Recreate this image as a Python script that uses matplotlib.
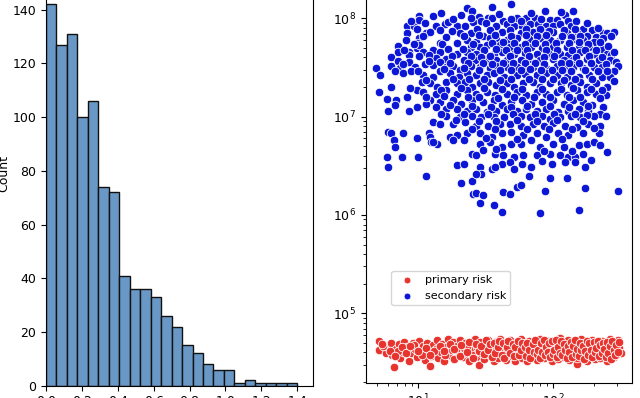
import matplotlib

matplotlib.use("Agg")
import matplotlib.pyplot as plt
import numpy as np

# histogram (left panel)
hist_counts = [142, 127, 131, 100, 106, 74, 72, 41, 36, 36, 33, 26,
               22, 15, 12, 8, 6, 6, 1, 2, 1, 1, 1, 1]
hist_min = 0.0
hist_max = 1.40
hist_xticks = [0.0, 0.2, 0.4, 0.6, 0.8, 1.0, 1.2, 1.4]
hist_yticks = [0, 20, 40, 60, 80, 100, 120, 140]

# scatter (right panel), values read as log10 of x and y
primary_log_x = [
    0.71, 0.71, 0.76, 0.78, 0.80, 0.81, 0.82, 0.84, 0.86, 0.87, 0.89, 0.90, 0.92, 0.93, 0.95, 0.96,
    0.98, 0.99, 1.01, 1.02, 1.04, 1.05, 1.07, 1.08, 1.09, 1.10, 1.11, 1.13, 1.14, 1.15, 1.17, 1.18,
    1.19, 1.21, 1.22, 1.23, 1.25, 1.26, 1.27, 1.29, 1.30, 1.31, 1.33, 1.34, 1.35, 1.37, 1.38, 1.39,
    1.41, 1.42, 1.43, 1.44, 1.45, 1.46, 1.47, 1.49, 1.50, 1.51, 1.52, 1.53, 1.55, 1.56, 1.57, 1.58,
    1.59, 1.60, 1.61, 1.63, 1.64, 1.65, 1.66, 1.67, 1.68, 1.69, 1.70, 1.71, 1.72, 1.73, 1.74, 1.75,
    1.76, 1.77, 1.78, 1.79, 1.80, 1.81, 1.82, 1.83, 1.84, 1.85, 1.86, 1.87, 1.88, 1.89, 1.90, 1.91,
    1.92, 1.93, 1.94, 1.95, 1.96, 1.97, 1.98, 1.99, 2.00, 2.01, 2.02, 2.03, 2.04, 2.05, 2.06, 2.07,
    2.08, 2.09, 2.10, 2.11, 2.12, 2.13, 2.14, 2.15, 2.16, 2.17, 2.18, 2.18, 2.19, 2.20, 2.21, 2.22,
    2.23, 2.24, 2.25, 2.26, 2.27, 2.28, 2.29, 2.30, 2.31, 2.32, 2.33, 2.34, 2.35, 2.36, 2.37, 2.38,
    2.39, 2.40, 2.41, 2.42, 2.43, 2.44, 2.45, 2.46, 2.47, 2.48, 2.49, 2.50,
    0.74, 0.85, 0.97, 1.03, 1.12, 1.20, 1.28, 1.36, 1.40, 1.48, 1.54, 1.62, 1.66, 1.72, 1.78, 1.84,
    1.88, 1.94, 1.98, 2.02, 2.06, 2.10, 2.14, 2.19, 2.23, 2.27, 2.31, 2.35, 2.39, 2.43, 2.47, 1.58,
    1.70, 1.90, 2.00, 2.12, 2.25,
    0.73, 0.79, 0.83, 0.88, 0.91, 0.94, 1.00, 1.06, 1.09, 1.16, 1.19, 1.24, 1.27, 1.31, 1.32, 1.36,
    1.38, 1.41, 1.43, 1.45, 1.47, 1.49, 1.50, 1.52, 1.53, 1.55, 1.56, 1.57, 1.59, 1.60, 1.62, 1.63,
    1.64, 1.66, 1.67, 1.68, 1.70, 1.71, 1.72, 1.74, 1.75, 1.76, 1.77, 1.79, 1.80, 1.81, 1.82, 1.83,
    1.85, 1.86, 1.87, 1.88, 1.89, 1.90, 1.91, 1.92, 1.93, 1.94, 1.95, 1.96, 1.97, 1.98, 1.99, 2.00,
    2.01, 2.02, 2.03, 2.04, 2.05, 2.06, 2.07, 2.08, 2.09, 2.10, 2.11, 2.12, 2.13, 2.14, 2.15, 2.16,
    2.17, 2.18, 2.19, 2.20, 2.21, 2.22, 2.23, 2.24, 2.25, 2.26, 2.27, 2.28, 2.29, 2.30, 2.31, 2.32,
    2.33, 2.34, 2.35, 2.36, 2.37, 2.38, 2.39, 2.40, 2.41, 2.42, 2.43, 2.44, 2.45, 2.46, 2.47, 2.48,
    2.49,
]
primary_log_y = [
    4.72, 4.63, 4.60, 4.66, 4.70, 4.58, 4.45, 4.64, 4.69, 4.55, 4.61, 4.71, 4.66, 4.52, 4.60, 4.70,
    4.64, 4.56, 4.72, 4.61, 4.67, 4.53, 4.70, 4.62, 4.46, 4.57, 4.68, 4.64, 4.73, 4.55, 4.61, 4.69,
    4.52, 4.66, 4.74, 4.58, 4.63, 4.71, 4.54, 4.67, 4.60, 4.73, 4.56, 4.65, 4.70, 4.59, 4.52, 4.68,
    4.63, 4.74, 4.56, 4.66, 4.47, 4.71, 4.60, 4.54, 4.69, 4.64, 4.73, 4.58, 4.66, 4.51, 4.71, 4.62,
    4.55, 4.68, 4.74, 4.60, 4.65, 4.53, 4.70, 4.58, 4.73, 4.63, 4.56, 4.67, 4.52, 4.71, 4.61, 4.65,
    4.74, 4.55, 4.69, 4.59, 4.64, 4.52, 4.72, 4.61, 4.67, 4.56, 4.71, 4.63, 4.53, 4.68, 4.74, 4.59,
    4.65, 4.55, 4.70, 4.62, 4.72, 4.57, 4.67, 4.52, 4.64, 4.71, 4.59, 4.68, 4.54, 4.75, 4.62, 4.66,
    4.56, 4.70, 4.60, 4.73, 4.53, 4.65, 4.69, 4.58, 4.62, 4.72, 4.48, 4.55, 4.67, 4.61, 4.74, 4.57,
    4.64, 4.70, 4.52, 4.62, 4.68, 4.58, 4.73, 4.65, 4.54, 4.70, 4.60, 4.66, 4.55, 4.72, 4.63, 4.58,
    4.69, 4.52, 4.65, 4.74, 4.60, 4.67, 4.56, 4.70, 4.62, 4.73, 4.65, 4.60,
    4.67, 4.62, 4.68, 4.58, 4.62, 4.58, 4.63, 4.66, 4.58, 4.65, 4.62, 4.66, 4.61, 4.64, 4.62, 4.60,
    4.66, 4.63, 4.60, 4.66, 4.69, 4.64, 4.61, 4.70, 4.60, 4.64, 4.68, 4.62, 4.65, 4.69, 4.58, 4.69,
    4.60, 4.62, 4.69, 4.67, 4.66,
    4.69, 4.62, 4.57, 4.66, 4.60, 4.67, 4.62, 4.65, 4.58, 4.67, 4.62, 4.69, 4.64, 4.57, 4.68, 4.61,
    4.71, 4.55, 4.69, 4.62, 4.67, 4.59, 4.73, 4.63, 4.69, 4.56, 4.70, 4.60, 4.66, 4.72, 4.58, 4.70,
    4.55, 4.66, 4.72, 4.60, 4.69, 4.57, 4.66, 4.72, 4.58, 4.63, 4.70, 4.66, 4.57, 4.70, 4.63, 4.55,
    4.69, 4.61, 4.73, 4.59, 4.63, 4.55, 4.70, 4.61, 4.73, 4.58, 4.66, 4.61, 4.70, 4.56, 4.72, 4.59,
    4.63, 4.73, 4.56, 4.66, 4.60, 4.72, 4.58, 4.69, 4.63, 4.55, 4.67, 4.61, 4.71, 4.56, 4.67, 4.73,
    4.59, 4.64, 4.57, 4.70, 4.63, 4.67, 4.54, 4.62, 4.72, 4.58, 4.70, 4.63, 4.56, 4.71, 4.61, 4.65,
    4.72, 4.57, 4.68, 4.60, 4.70, 4.64, 4.56, 4.71, 4.60, 4.67, 4.54, 4.72, 4.63, 4.58, 4.68, 4.61,
    4.71,
]

secondary_log_x = [
    1.36, 1.55, 1.69, 1.40, 1.94, 2.15, 1.01, 1.11, 1.32, 1.45, 1.52, 1.55, 1.63, 1.73, 1.80, 1.87,
    1.98, 2.03, 2.09, 2.11,
    0.92, 0.97, 0.99, 1.01, 1.13, 1.20, 1.22, 1.29, 1.35, 1.41, 1.47, 1.58, 1.66, 1.71, 1.77, 1.83,
    1.89, 1.95, 2.00, 2.05, 2.13, 2.22, 2.29, 2.37, 2.40,
    0.92, 1.06, 1.09, 1.01, 1.31, 1.39, 1.48, 1.62, 1.76, 1.85, 1.93, 2.00, 2.10, 2.18, 2.25, 2.32,
    2.37,
    0.91, 0.99, 1.36, 1.43, 1.53, 1.58, 1.66, 1.73, 1.82, 1.90, 1.98, 2.05, 2.15, 2.22, 2.30,
    0.85, 0.99, 1.01, 1.16, 1.39, 1.46, 1.51, 1.61, 1.68, 1.76, 1.84, 1.92, 2.00, 2.10, 2.19, 2.27,
    2.36,
    0.85, 0.93, 1.04, 1.11, 1.16, 1.29, 1.36, 1.43, 1.56, 1.62, 1.71, 1.79, 1.88, 1.97, 2.05, 2.11,
    2.20, 2.30, 2.40, 2.43,
    0.80, 0.93, 1.01, 1.13, 1.21, 1.34, 1.42, 1.51, 1.58, 1.66, 1.76, 1.82, 1.90, 2.00, 2.08, 2.15,
    2.25, 2.34, 2.42, 2.47,
    0.69, 0.72, 0.80, 0.85, 0.87, 0.93, 0.98, 1.05, 1.11, 1.16, 1.21, 1.26, 1.31, 1.39, 1.46, 1.53,
    1.58, 1.66, 1.73, 1.80, 1.85, 1.95, 2.03, 2.10, 2.15, 2.22, 2.30, 2.36, 2.48, 2.45,
    0.83, 0.89, 0.95, 1.04, 1.11, 1.16, 1.24, 1.30, 1.36, 1.43, 1.51, 1.56, 1.64, 1.73, 1.79, 1.88,
    1.95, 2.03, 2.10, 2.19, 2.27, 2.36, 2.42,
    1.03, 0.99, 1.09, 1.14, 1.21, 1.29, 1.35, 1.40, 1.46, 1.52, 1.58, 1.66, 1.71, 1.78, 1.85, 1.90,
    1.98, 2.06, 2.13, 2.20, 2.25, 2.32, 2.40,
    0.71, 0.80, 0.94, 1.04, 1.13, 1.21, 1.29, 1.36, 1.43, 1.51, 1.57, 1.66, 1.73, 1.80, 1.88, 1.95,
    2.03, 2.10, 2.18, 2.25, 2.32, 2.39,
    0.77, 0.84, 0.92, 0.93, 0.99, 1.09, 1.16, 1.26, 1.32, 1.40, 1.48, 1.56, 1.62, 1.69, 1.77, 1.84,
    1.92, 2.00, 2.08, 2.15, 2.22, 2.29, 2.37,
    0.78, 0.83, 1.06, 1.13, 1.21, 1.29, 1.36, 1.43, 1.51, 1.58, 1.66, 1.73, 1.80, 1.88, 1.95, 2.04,
    2.11, 2.19, 2.26, 2.35,
    1.21, 1.31, 1.40, 1.47, 1.56, 1.64, 1.76, 1.83, 1.92, 1.98, 2.05, 2.13, 2.20, 2.30, 2.39,
    0.78, 0.80, 0.89, 0.99, 1.08, 1.11, 1.16, 1.26, 1.35, 1.43, 1.52, 1.61, 1.68, 1.76, 1.85, 1.93,
    2.00, 2.09, 2.18, 2.26, 2.35,
    0.82, 0.83, 1.09, 1.10, 1.14, 1.24, 1.29, 1.36, 1.46, 1.55, 1.62, 1.69, 1.78, 1.88, 1.95, 2.04,
    2.11, 2.22, 2.34,
    0.77, 0.88, 1.00, 1.11, 1.26, 1.34, 1.46, 1.53, 1.62, 1.69, 1.76, 1.84, 1.90, 2.00, 2.08, 2.19,
    2.25, 2.40, 2.30,
    0.78, 1.06, 1.29, 1.34, 1.40, 1.43, 1.48, 1.57, 1.63, 1.71, 1.78, 1.88, 1.98, 2.05, 2.11, 2.16,
    2.22, 2.28, 2.35,
    1.32, 1.40, 1.46, 1.47, 1.55, 1.62, 1.68, 1.77, 1.84, 1.92, 1.99, 2.09, 2.16, 2.24,
    1.43, 1.57, 1.71, 1.82, 1.98, 2.10, 2.24,
    1.41, 1.43, 1.46, 1.48, 1.56, 1.62, 1.63, 1.68, 1.73, 1.76, 1.94, 1.90, 2.19, 2.48,
    # points filling the denser middle of the cloud
    1.05, 1.17, 1.26, 1.39, 1.50, 1.60, 1.69, 1.76, 1.84, 1.91, 2.06, 2.17, 2.25, 0.95,
    1.16, 1.25, 1.44, 1.53, 1.68, 1.80, 1.90, 1.97, 2.08, 2.16, 2.33, 2.45, 2.43,
    1.04, 1.21, 1.34, 1.45, 1.57, 1.69, 1.80, 1.88, 1.95, 2.07, 2.13, 2.20, 2.35,
    0.97, 1.18, 1.29, 1.41, 1.55, 1.63, 1.71, 1.79, 1.87, 1.94, 2.02, 2.12, 2.19, 2.26, 2.41,
    0.90, 1.22, 1.33, 1.49, 1.58, 1.65, 1.73, 1.81, 1.95, 2.03, 2.14, 2.24, 2.32, 2.45,
    1.08, 1.25, 1.39, 1.47, 1.53, 1.68, 1.82, 1.93, 2.01, 2.17, 2.27, 2.36,
    0.89, 1.08, 1.24, 1.37, 1.48, 1.55, 1.63, 1.70, 1.79, 1.87, 1.93, 2.06, 2.12, 2.19, 2.28, 2.39,
    1.00, 1.19, 1.34, 1.45, 1.61, 1.69, 1.76, 1.83, 1.91, 1.99, 2.07, 2.13, 2.24, 2.33, 2.40,
    1.06, 1.26, 1.38, 1.49, 1.61, 1.69, 1.82, 1.92, 2.00, 2.08, 2.16, 2.29, 2.45,
    1.17, 1.32, 1.49, 1.62, 1.77, 1.92, 2.06, 2.15, 2.28, 2.36,
    1.06, 1.19, 1.37, 1.45, 1.59, 1.71, 1.86, 1.98, 2.12, 2.20, 2.35,
    1.24, 1.40, 1.54, 1.69, 1.81, 1.98, 2.12, 2.26,
    1.17, 1.34, 1.52, 1.70, 1.87, 2.01, 2.16, 2.25,
    1.28, 1.45, 1.58, 1.73, 1.88, 2.03, 2.22,
    1.40, 1.57, 1.81, 1.97, 2.14, 2.30, 1.50, 1.73, 2.07, 1.58, 1.93, 2.14,
]
secondary_log_y = [
    8.11, 8.12, 8.15, 8.07, 8.07, 8.07, 8.02, 8.02, 8.03, 8.01, 8.00, 8.00, 7.97, 8.00, 8.00, 8.00,
    7.98, 7.98, 8.03, 7.97,
    7.92, 7.92, 7.89, 7.98, 7.92, 7.94, 7.96, 7.92, 7.92, 7.96, 7.97, 7.92, 7.94, 7.92, 7.92, 7.94,
    7.94, 7.92, 7.92, 7.94, 7.92, 7.89, 7.88, 7.85, 7.85,
    7.85, 7.85, 7.86, 7.80, 7.85, 7.85, 7.82, 7.86, 7.85, 7.86, 7.86, 7.86, 7.85, 7.85, 7.82, 7.81,
    7.80,
    7.78, 7.75, 7.78, 7.76, 7.80, 7.79, 7.78, 7.80, 7.79, 7.80, 7.78, 7.78, 7.79, 7.78, 7.76,
    7.72, 7.70, 7.73, 7.75, 7.71, 7.71, 7.73, 7.73, 7.71, 7.71, 7.71, 7.70, 7.71, 7.71, 7.71, 7.71,
    7.69,
    7.66, 7.66, 7.66, 7.68, 7.66, 7.64, 7.66, 7.64, 7.64, 7.66, 7.64, 7.65, 7.64, 7.64, 7.64, 7.63,
    7.66, 7.64, 7.64, 7.63,
    7.61, 7.63, 7.62, 7.60, 7.59, 7.58, 7.58, 7.59, 7.58, 7.58, 7.58, 7.59, 7.58, 7.59, 7.58, 7.58,
    7.59, 7.58, 7.58, 7.56,
    7.49, 7.42, 7.52, 7.57, 7.49, 7.56, 7.51, 7.54, 7.53, 7.56, 7.51, 7.52, 7.47, 7.52, 7.51, 7.49,
    7.52, 7.51, 7.51, 7.52, 7.51, 7.49, 7.52, 7.52, 7.51, 7.49, 7.51, 7.51, 7.52, 7.46,
    7.46, 7.44, 7.46, 7.42, 7.40, 7.46, 7.44, 7.40, 7.44, 7.42, 7.42, 7.44, 7.40, 7.42, 7.43, 7.42,
    7.44, 7.42, 7.40, 7.40, 7.42, 7.40, 7.40,
    7.35, 7.27, 7.34, 7.30, 7.35, 7.34, 7.35, 7.30, 7.34, 7.35, 7.32, 7.34, 7.30, 7.34, 7.35, 7.30,
    7.34, 7.34, 7.32, 7.35, 7.30, 7.34, 7.30,
    7.25, 7.30, 7.29, 7.25, 7.23, 7.27, 7.23, 7.27, 7.23, 7.25, 7.22, 7.23, 7.25, 7.22, 7.25, 7.23,
    7.25, 7.22, 7.27, 7.25, 7.23, 7.22,
    7.18, 7.17, 7.20, 7.06, 7.10, 7.17, 7.15, 7.17, 7.13, 7.17, 7.15, 7.17, 7.12, 7.15, 7.17, 7.13,
    7.15, 7.17, 7.13, 7.17, 7.15, 7.12, 7.10,
    7.06, 7.12, 7.13, 7.10, 7.08, 7.08, 7.06, 7.08, 7.05, 7.06, 7.08, 7.06, 7.08, 7.06, 7.08, 7.05,
    7.06, 7.08, 7.06, 7.03,
    7.01, 7.00, 7.01, 7.00, 7.00, 7.00, 7.01, 7.00, 7.01, 6.98, 7.00, 7.01, 7.00, 7.01, 7.01,
    6.84, 6.83, 6.83, 6.78, 6.83, 6.95, 6.93, 6.93, 6.95, 6.91, 6.91, 6.93, 6.93, 6.91, 6.93, 6.91,
    6.94, 6.91, 6.90, 6.93, 6.91,
    6.76, 6.69, 6.79, 6.74, 6.72, 6.79, 6.81, 6.83, 6.83, 6.79, 6.83, 6.84, 6.81, 6.83, 6.79, 6.83,
    6.81, 6.83, 6.83,
    6.59, 6.59, 6.59, 6.74, 6.76, 6.76, 6.72, 6.74, 6.69, 6.72, 6.72, 6.76, 6.69, 6.72, 6.69, 6.71,
    6.72, 6.64, 6.74,
    6.49, 6.40, 6.51, 6.52, 6.62, 6.61, 6.66, 6.62, 6.61, 6.59, 6.61, 6.61, 6.62, 6.61, 6.59, 6.59,
    6.62, 6.56, 6.71,
    6.33, 6.35, 6.49, 6.42, 6.47, 6.52, 6.54, 6.52, 6.49, 6.55, 6.52, 6.54, 6.54, 6.49,
    6.42, 6.49, 6.47, 6.40, 6.38, 6.38, 6.27,
    6.21, 6.22, 6.12, 6.20, 6.10, 6.03, 6.23, 6.21, 6.28, 6.30, 6.24, 6.02, 6.05, 6.24,
    # points filling the denser middle of the cloud
    7.95, 8.05, 7.99, 8.00, 7.95, 8.04, 7.99, 7.97, 8.05, 7.99, 8.06, 7.97, 7.95, 7.97,
    7.88, 7.87, 7.89, 7.88, 7.88, 7.89, 7.89, 7.87, 7.88, 7.89, 7.90, 7.86, 7.82,
    7.82, 7.81, 7.82, 7.83, 7.83, 7.82, 7.83, 7.82, 7.83, 7.82, 7.81, 7.82, 7.76,
    7.74, 7.74, 7.75, 7.74, 7.75, 7.76, 7.75, 7.74, 7.75, 7.74, 7.75, 7.75, 7.76, 7.74, 7.72,
    7.68, 7.69, 7.69, 7.68, 7.69, 7.68, 7.68, 7.68, 7.68, 7.68, 7.68, 7.68, 7.68, 7.66,
    7.63, 7.62, 7.62, 7.61, 7.62, 7.62, 7.62, 7.61, 7.62, 7.61, 7.62, 7.61,
    7.54, 7.57, 7.55, 7.55, 7.55, 7.54, 7.55, 7.55, 7.55, 7.55, 7.54, 7.55, 7.55, 7.55, 7.55, 7.54,
    7.46, 7.48, 7.49, 7.47, 7.47, 7.47, 7.47, 7.48, 7.47, 7.47, 7.47, 7.46, 7.47, 7.46, 7.46,
    7.37, 7.38, 7.38, 7.38, 7.37, 7.38, 7.38, 7.38, 7.38, 7.37, 7.38, 7.38, 7.36,
    7.27, 7.29, 7.29, 7.28, 7.28, 7.28, 7.28, 7.29, 7.28, 7.27,
    7.20, 7.21, 7.20, 7.20, 7.19, 7.20, 7.20, 7.20, 7.20, 7.20, 7.19,
    7.12, 7.11, 7.10, 7.10, 7.11, 7.11, 7.10, 7.11,
    7.03, 7.03, 7.03, 7.03, 7.03, 7.03, 7.03, 7.02,
    6.97, 6.96, 6.96, 6.97, 6.96, 6.97, 6.96,
    6.87, 6.87, 6.87, 6.87, 6.87, 6.88, 6.78, 6.77, 6.77, 6.67, 6.65, 6.65,
]

red = "#e8342e"
blue = "#0c16d6"

plt.rcParams["font.size"] = 9
fig = plt.figure(figsize=(6.4, 3.98), dpi=100)

# left: histogram of counts
ax1 = fig.add_axes([0.0719, 0.0309, 0.4172, 1.0063])
edges = np.linspace(hist_min, hist_max, len(hist_counts) + 1)
ax1.bar(edges[:-1], hist_counts, width=np.diff(edges), align="edge",
        color="#6a98c6", edgecolor="#111111", linewidth=1.0)
ax1.set_xlim(0, 1.488)
ax1.set_ylim(0, 149.1)
ax1.set_xticks(hist_xticks)
ax1.set_yticks(hist_yticks)
ax1.set_ylabel("Count")
ax1.yaxis.set_label_coords(-0.135, 0.53)

# right: log-log scatter
ax2 = fig.add_axes([0.5719, 0.0369, 0.4156, 0.999])
ax2.scatter(10 ** np.array(primary_log_x), 10 ** np.array(primary_log_y),
            s=38, color=red, edgecolor="white", linewidth=0.6, label="primary risk")
ax2.scatter(10 ** np.array(secondary_log_x), 10 ** np.array(secondary_log_y),
            s=38, color=blue, edgecolor="white", linewidth=0.6, label="secondary risk")
ax2.set_xscale("log")
ax2.set_yscale("log")
ax2.set_xlim(10 ** 0.615, 10 ** 2.585)
ax2.set_ylim(10 ** 4.288, 10 ** 8.332)
ax2.legend(loc="lower left", bbox_to_anchor=(0.095, 0.197), borderaxespad=0,
           fontsize=8, handletextpad=0.6, markerscale=0.8)

fig.savefig("out.png", dpi=100)
